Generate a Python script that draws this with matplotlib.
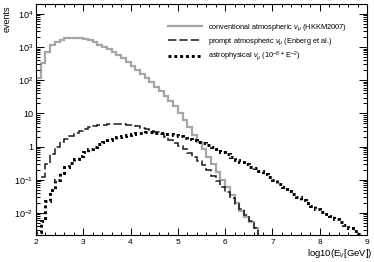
import numpy as np
import matplotlib
matplotlib.use("Agg")
import matplotlib.pyplot as plt
from matplotlib.lines import Line2D
from matplotlib.ticker import FixedLocator, LogLocator, FuncFormatter, NullFormatter

plt.rcParams['font.family'] = ['Liberation Sans', 'DejaVu Sans']
plt.rcParams['mathtext.fontset'] = 'custom'
plt.rcParams['mathtext.rm'] = 'Liberation Sans'
plt.rcParams['mathtext.it'] = 'Liberation Sans:italic'
plt.rcParams['mathtext.bf'] = 'Liberation Sans:bold'
plt.rcParams['lines.scale_dashes'] = False

# bin edges in log10(E/GeV): 0.1 wide bins from 2 to 9
bin_edges = np.round(np.linspace(2.0, 9.0, 71), 1)

# conventional atmospheric nu_mu (HKKM2007), bins starting at 2.0
conventional = [120, 331, 708, 1148, 1445, 1698, 1862, 1950, 1950, 1905,
                1738, 1585, 1380, 1175, 1000, 851, 708, 575, 457, 355,
                275, 209, 158, 117, 87, 63, 46, 33, 24, 16.6,
                10.5, 6.3, 3.8, 2.3, 1.38, 0.83, 0.50, 0.30, 0.174, 0.100,
                0.060, 0.035, 0.020, 0.0115, 0.0076, 0.0052, 0.0035, 0.001]

# prompt atmospheric nu_mu (Enberg et al.)
prompt = [0.093, 0.123, 0.295, 0.60, 1.0, 1.35, 1.70, 2.14, 2.57, 3.02,
          3.39, 3.80, 4.17, 4.37, 4.57, 4.68, 4.68, 4.68, 4.68, 4.57,
          4.37, 4.07, 3.72, 3.39, 3.02, 2.69, 2.34, 2.0, 1.62, 1.32,
          1.07, 0.85, 0.66, 0.50, 0.38, 0.275, 0.19, 0.132, 0.089, 0.060,
          0.042, 0.028, 0.019, 0.013, 0.0089, 0.0056, 0.0035]

# astrophysical nu_mu (1e-8 * E^-2)
astro = [0.0026, 0.0058, 0.023, 0.050, 0.095, 0.158, 0.234, 0.324, 0.427, 0.537,
         0.676, 0.83, 1.0, 1.17, 1.38, 1.55, 1.74, 1.91, 2.09, 2.24,
         2.40, 2.51, 2.63, 2.69, 2.69, 2.63, 2.57, 2.45, 2.34, 2.19,
         2.04, 1.86, 1.70, 1.55, 1.41, 1.26, 1.12, 0.98, 0.83, 0.71,
         0.59, 0.49, 0.40, 0.34, 0.29, 0.25, 0.22, 0.186, 0.151, 0.120,
         0.095, 0.076, 0.060, 0.047, 0.037, 0.0295, 0.024, 0.0195, 0.0158, 0.0129,
         0.0107, 0.0091, 0.0078, 0.0065, 0.0054, 0.0044, 0.0035, 0.0029, 0.0023]

labels = [r'conventional atmospheric $\nu_{\mu}$ (HKKM2007)',
          r'prompt atmospheric $\nu_{\mu}$ (Enberg et al.)',
          r'astrophysical $\nu_{\mu}$ ($10^{-8}$ * E$^{-2}$)']

ymin, ymax = 2.15e-3, 2.0e4
floor = 1e-4

fig = plt.figure(figsize=(3.74, 2.62), dpi=100)
ax = fig.add_axes([36/374, 1-235/262, (367-36)/374, (235-4)/262])

def draw(vals, **kw):
    v = np.array(vals, dtype=float)
    e = bin_edges[:len(v)+1]
    ax.stairs(np.maximum(v, floor), e, baseline=floor, fill=False, **kw)

gray_kw = dict(color='#a6a6a6', lw=1.6)
dash_kw = dict(color='#1a1a1a', lw=1.1, linestyle=(0, (6, 2.2)))
dot_kw = dict(color='black', lw=2.1, linestyle=(0, (2.1, 2.1)))

draw(conventional, **gray_kw)
draw(prompt, **dash_kw)
draw(astro, **dot_kw)

ax.set_yscale('log')
ax.set_xlim(2, 9)
ax.set_ylim(ymin, ymax)

ax.xaxis.set_major_locator(FixedLocator([2, 3, 4, 5, 6, 7, 8, 9]))
ax.xaxis.set_minor_locator(FixedLocator(np.round(np.arange(2, 9.01, 0.2), 1)))
ax.xaxis.set_minor_formatter(NullFormatter())
ax.yaxis.set_major_locator(LogLocator(base=10, numticks=20))
ax.yaxis.set_minor_locator(LogLocator(base=10, subs=np.arange(2, 10), numticks=20))
ax.yaxis.set_minor_formatter(NullFormatter())

def yfmt(v, pos):
    e = int(round(np.log10(v)))
    if e == 0:
        return '1'
    if e == 1:
        return '10'
    return r'$10^{%d}$' % e

ax.yaxis.set_major_formatter(FuncFormatter(yfmt))
ax.tick_params(which='both', direction='in', top=True, right=True, width=0.7,
               labelsize=6.5, colors='black')
ax.tick_params(axis='x', which='major', length=5, pad=3, labelsize=6)
ax.tick_params(axis='x', which='minor', length=2.5)
ax.tick_params(axis='y', which='major', length=6, pad=2)
ax.tick_params(axis='y', which='minor', length=3)
for s in ax.spines.values():
    s.set_linewidth(0.8)
ax.xaxis.label.set_visible(False)
ax.yaxis.label.set_visible(False)
ax.xaxis.get_offset_text().set_visible(False)
ax.yaxis.get_offset_text().set_visible(False)

handles = [Line2D([], [], **gray_kw), Line2D([], [], **dash_kw), Line2D([], [], **dot_kw)]
ax.legend(handles, labels, loc='upper left', bbox_to_anchor=((168-36)/331, 1-(22-4)/231),
          frameon=False, fontsize=5.3, handlelength=4.6, handletextpad=0.8,
          labelspacing=0.45, borderaxespad=0, borderpad=0)

fig.text(372/374, 1-254/262, r'log10(E$_{\nu}$[GeV])', ha='right', va='center', fontsize=6.8)
fig.text(7/374, 1-5/262, 'events', rotation=90, ha='center', va='top', fontsize=6.5)

fig.savefig('out.png', dpi=100)
